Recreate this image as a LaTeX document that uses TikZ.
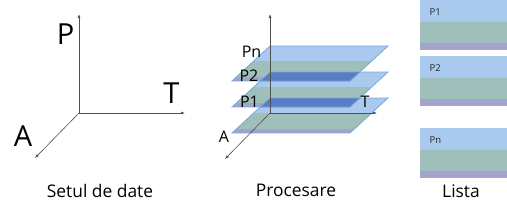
\documentclass[tikz,border=0pt]{standalone}
\usepackage{fontspec}
\setmainfont{Open Sans}
\usepackage{tikz}
\usetikzlibrary{arrows.meta, positioning}
\definecolor{lyBlue}{RGB}{169,201,238}
\definecolor{lyGreen}{RGB}{159,191,186}
\definecolor{lyLav}{RGB}{163,163,203}
\definecolor{lyDark}{RGB}{90,124,198}
\definecolor{lyEdge}{RGB}{121,167,222}
\definecolor{axGray}{RGB}{80,80,80}

\begin{document}
\begin{tikzpicture}[x=1pt, y=-1pt,
    ax/.style={-{Latex[length=4pt,width=3pt]}, line width=0.6pt, draw=axGray},
    big/.style={font=\fontsize{29}{30}\selectfont, anchor=base},
    lbl/.style={font=\fontsize{16}{17}\selectfont, anchor=base},
    caption/.style={font=\fontsize{17.4}{18}\selectfont, anchor=base},
    tag/.style={font=\fontsize{9.5}{10}\selectfont, anchor=base west, text=black!85}]
\useasboundingbox (0,0) rectangle (507,204);

% SETUL DE DATE
\coordinate (o1) at (79,113);
\coordinate (p1) at (79,14);
\coordinate (t1) at (185,113);
\coordinate (a1) at (35,158);
\draw[ax] (o1) -- (p1);
\draw[ax] (o1) -- (t1);
\draw[ax] (o1) -- (a1);
\node[big] (lp1) at (65.5,44) {P};
\node[big] (lt1) at (171.5,103) {T};
\node[big] (la1) at (23,146) {A};
\node[caption] (c1) at (100,197) {Setul de date};

% PROCESARE
\foreach \y in {98,72,46}{
  \begin{scope}
    \clip (270,\y) -- (388,\y) -- (350,\y+35) -- (232,\y+35) -- cycle;
    \fill[lyBlue] (220,\y) rectangle (400,\y+15);
    \fill[lyGreen] (220,\y+15) rectangle (400,\y+31);
    \fill[lyLav] (220,\y+31) rectangle (400,\y+35);
  \end{scope}
  \draw[lyEdge, line width=0.8pt] (270,\y) -- (388,\y) -- (350,\y+35)
     -- (232,\y+35) -- cycle;
}
% overlaps
\foreach \y in {72,98}
  \draw[lyEdge, fill=lyDark, line width=0.6pt]
     (270,\y) -- (359.8,\y) -- (350,\y+9) -- (260.2,\y+9) -- cycle;

\coordinate (o2) at (270,113);
\coordinate (p2) at (270,14);
\coordinate (t2) at (377,113);
\coordinate (a2) at (225,159);
\draw[ax] (o2) -- (p2);
\draw[ax] (o2) -- (t2);
\draw[ax] (o2) -- (a2);
\node[lbl] (lpn) at (251.5,57) {Pn};
\node[lbl] (lp22) at (249,81) {P2};
\node[lbl] (lp12) at (249.5,107) {P1};
\node[lbl] (lt2) at (365,107) {T};
\node[lbl] (la2) at (224,142) {A};
\node[caption] (c2) at (296,196) {Procesare};

% LISTA
\foreach \t/\y/\n in {P1/0/b1,P2/56/b2,Pn/128/b3}{
  \fill[lyBlue] (420,\y) rectangle (507,\y+22);
  \fill[lyGreen] (420,\y+22) rectangle (507,\y+43);
  \fill[lyLav] (420,\y+43) rectangle (507,\y+50);
  \node[tag] (\n) at (426,\y+15) {\t};
}
\node[caption] (c3) at (461,197) {Lista};

\end{tikzpicture}
\end{document}
